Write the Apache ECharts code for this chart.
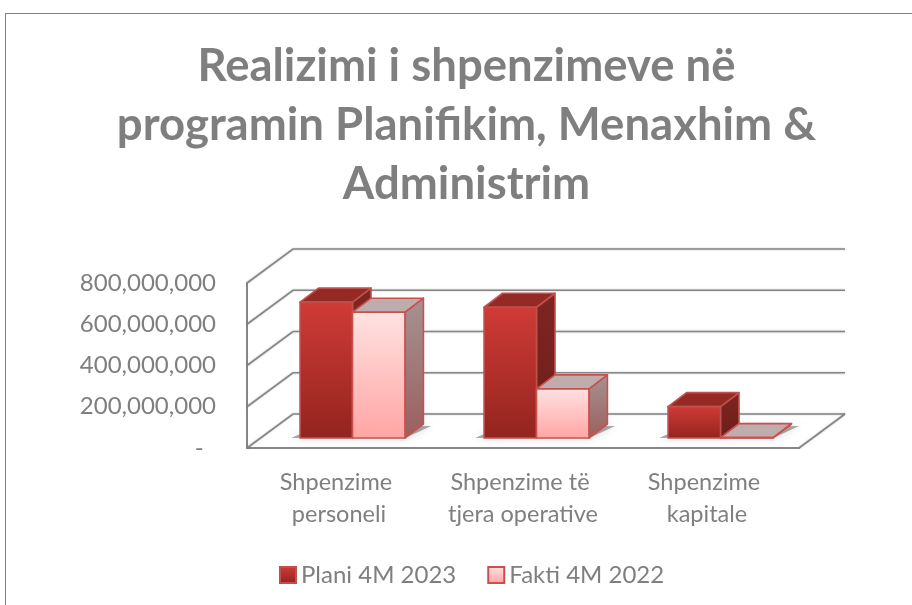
<!DOCTYPE html>
<html lang="sq">

<head>
  <meta charset="utf-8">
  <title>Realizimi i shpenzimeve</title>
  <script src="https://cdn.jsdelivr.net/npm/echarts@6/dist/echarts.min.js"></script>
  <style>
    html, body { margin: 0; padding: 0; background: #fff; }
    #frame { position: absolute; left: 5px; top: 13px; width: 907px; height: 592px; border-top: 1px solid #808080; border-left: 1px solid #808080; box-sizing: border-box; }
    #chart { position: absolute; left: 0; top: 0; width: 912px; height: 605px; }
  </style>
</head>

<body>
  <div id="frame"></div>
  <div id="chart"></div>

  <script>
    const titleText = 'Realizimi i shpenzimeve në\nprogramin Planifikim, Menaxhim &\nAdministrim';
    const categories = ['Shpenzime personeli', 'Shpenzime të tjera operative', 'Shpenzime kapitale'];
    const planValues = [659000000, 634000000, 152000000];
    const factValues = [610000000, 238000000, 2000000];
    const yTicks = [0, 200000000, 400000000, 600000000, 800000000];

    // perspective of the 3D box, in pixels
    const WALL_DX = 46, WALL_DY = -34;   // front plane -> back wall
    const BAR_INSET_DX = 13.5, BAR_INSET_DY = -10; // front plane -> front of bars
    const BAR_DX = 18.5, BAR_DY = -14;   // depth of a bar
    const BAR_WIDTH = 0.285;             // share of a category band

    const grey = '#7f7f7f';
    const lineGrey = '#868686';
    const font = 'Lato';

    const chart = echarts.init(document.getElementById('chart'));
    const vGrad = (c0, c1) => new echarts.graphic.LinearGradient(0, 0, 0, 1, [
      { offset: 0, color: c0 }, { offset: 1, color: c1 }
    ]);

    // back wall grid lines and floor
    function renderWalls(params, api) {
      const cs = params.coordSys;
      const y = api.coord([0, api.value(1)])[1];
      const left = cs.x, right = cs.x + cs.width;
      const style = { fill: 'none', stroke: lineGrey, lineWidth: 1.6, shadowBlur: 2, shadowColor: 'rgba(0,0,0,0.25)' };
      const children = [{
        type: 'polyline',
        shape: { points: [[left, y], [left + WALL_DX, y + WALL_DY], [right + WALL_DX, y + WALL_DY]] },
        style: style
      }];
      if (api.value(1) === 0) {
        children.push({
          type: 'polyline',
          shape: { points: [[right, y], [right + WALL_DX, y + WALL_DY]] },
          style: style
        });
      }
      return { type: 'group', children: children };
    }

    // soft shadow on the floor under each pair of bars
    function renderShadow(params, api) {
      const w = api.size([1, 0])[0] * BAR_WIDTH;
      const base = api.coord([api.value(0), 0]);
      const x = base[0] + BAR_INSET_DX, y = base[1] + BAR_INSET_DY;
      const l = x - w, r = x + w;
      return {
        type: 'polygon',
        shape: { points: [[l - 9, y], [r, y], [r + BAR_DX + 8, y + BAR_DY + 2], [l + BAR_DX, y + BAR_DY + 2]] },
        style: { fill: 'rgba(0,0,0,0.32)', shadowBlur: 9, shadowColor: 'rgba(0,0,0,0.5)' }
      };
    }

    function barRenderer(side, colors) {
      return function (params, api) {
        const w = api.size([1, 0])[0] * BAR_WIDTH;
        const top = api.coord([api.value(0), api.value(1)]);
        const base = api.coord([api.value(0), 0]);
        const x0 = base[0] + BAR_INSET_DX + (side < 0 ? -w : 0), x1 = x0 + w;
        const yt = top[1] + BAR_INSET_DY, yb = base[1] + BAR_INSET_DY;
        const edge = { stroke: colors.edge, lineWidth: 1.6, lineJoin: 'round' };
        return {
          type: 'group',
          children: [{
            type: 'polygon',
            shape: { points: [[x1, yt], [x1 + BAR_DX, yt + BAR_DY], [x1 + BAR_DX, yb + BAR_DY], [x1, yb]] },
            style: Object.assign({ fill: vGrad(colors.side0, colors.side1) }, edge)
          }, {
            type: 'polygon',
            shape: { points: [[x0, yt], [x0 + BAR_DX, yt + BAR_DY], [x1 + BAR_DX, yt + BAR_DY], [x1, yt]] },
            style: Object.assign({ fill: colors.top }, edge)
          }, {
            type: 'rect',
            shape: { x: x0, y: yt, width: w, height: yb - yt },
            style: Object.assign({ fill: vGrad(colors.front0, colors.front1) }, edge)
          }]
        };
      };
    }

    const planColors = { front0: '#d03b36', front1: '#93241f', top: '#952a25', side0: '#7f2522', side1: '#6c1e1b', edge: '#c0504d' };
    const factColors = { front0: '#ffe2e2', front1: '#ffa5a3', top: '#bfacac', side0: '#a69292', side1: '#9b5f5e', edge: '#c9504d' };

    chart.setOption({
      animation: false,
      title: {
        text: titleText,
        left: 461.5,
        top: 32,
        textAlign: 'center',
        textStyle: { color: grey, fontFamily: font, fontWeight: 'bold', fontSize: 45.5, lineHeight: 59 }
      },
      legend: {
        data: ['Plani 4M 2023', 'Fakti 4M 2022'],
        left: 274,
        top: 558,
        icon: 'rect',
        itemWidth: 16,
        itemHeight: 16,
        itemGap: 31,
        textStyle: { color: grey, fontFamily: font, fontSize: 24 }
      },
      grid: { left: 247, top: 283, width: 552, height: 165, containLabel: false },
      xAxis: {
        type: 'category',
        data: categories,
        axisTick: { show: false },
        axisLine: { lineStyle: { color: lineGrey, width: 2 } },
        axisLabel: {
          color: grey, fontFamily: font, fontSize: 23.5, lineHeight: 32,
          margin: 18, interval: 0, width: 175, overflow: 'break'
        }
      },
      yAxis: {
        type: 'value',
        min: 0,
        max: 800000000,
        interval: 200000000,
        splitLine: { show: false },
        axisTick: { show: false },
        axisLine: { show: true, lineStyle: { color: lineGrey, width: 2 } },
        axisLabel: {
          color: grey, fontFamily: font, fontSize: 24, margin: 31, padding: [3, 0, 0, 0],
          formatter: v => v === 0 ? '-  ' : v.toLocaleString('en-US')
        }
      },
      series: [{
        name: 'walls',
        type: 'custom',
        z: 1,
        silent: true,
        renderItem: renderWalls,
        encode: { x: 0, y: 1 },
        data: yTicks.map(t => [0, t])
      }, {
        name: 'floorShadow',
        type: 'custom',
        z: 2,
        silent: true,
        renderItem: renderShadow,
        encode: { x: 0, y: 1 },
        data: categories.map((c, i) => [i, 0])
      }, {
        name: 'Plani 4M 2023',
        type: 'custom',
        z: 3,
        renderItem: barRenderer(-1, planColors),
        itemStyle: { color: vGrad('#d03b36', '#93241f'), borderColor: '#c0504d', borderWidth: 1 },
        encode: { x: 0, y: 1 },
        data: planValues.map((v, i) => [i, v])
      }, {
        name: 'Fakti 4M 2022',
        type: 'custom',
        z: 4,
        renderItem: barRenderer(1, factColors),
        itemStyle: { color: vGrad('#ffe2e2', '#ffa5a3'), borderColor: '#c9504d', borderWidth: 1 },
        encode: { x: 0, y: 1 },
        data: factValues.map((v, i) => [i, v])
      }]
    });

    window.onresize = function () {
      chart.resize();
    };
  </script>
</body>

</html>
